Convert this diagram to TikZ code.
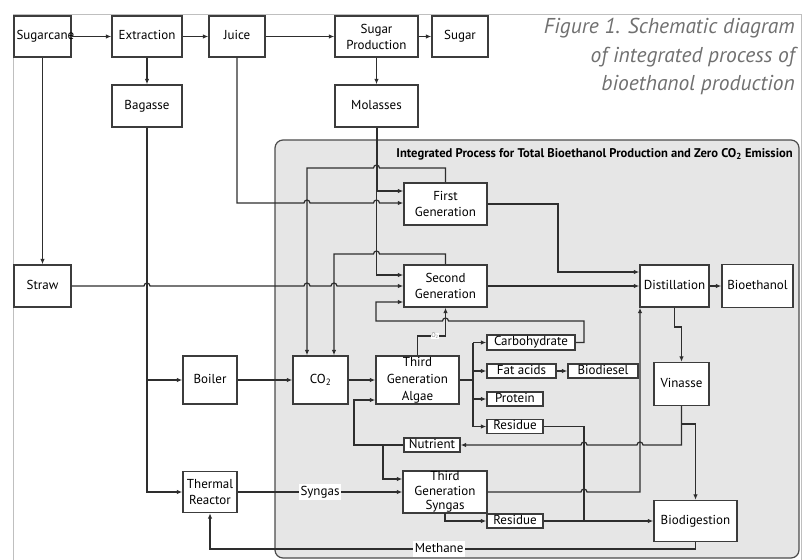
\documentclass[tikz,border=0pt]{standalone}
\usepackage{fontspec}
\setmainfont{PT Sans}
\usetikzlibrary{arrows.meta,calc}
\definecolor{lnc}{HTML}{2E2E2E}
\definecolor{boxc}{HTML}{3C3C3C}
\definecolor{panelfill}{HTML}{E6E6E6}
\definecolor{captiongray}{HTML}{707070}
\begin{document}
\begin{tikzpicture}[x=1pt,y=-1pt,
  box/.style={draw=boxc, line width=1.4pt, fill=white, inner sep=0pt, align=center,
    font=\fontsize{13}{16}\selectfont},
  one/.style={box, text height=9.5pt, text depth=3pt},
  sbox/.style={draw=boxc, line width=1.4pt, fill=white, inner sep=0pt,
    font=\fontsize{13}{16}\selectfont, text height=9.5pt, text depth=3pt},
  ln/.style={draw=lnc, line width=1.2pt},
  arr/.style={ln, -{Latex[length=5.5pt,width=4.5pt]}},
  lab/.style={fill=white, inner sep=1.5pt, font=\fontsize{13}{16}\selectfont, text height=9.5pt, text depth=3pt},
  capt/.style={anchor=base east, font=\itshape\fontsize{21.5}{24}\selectfont, text=captiongray, inner sep=0pt}
]
\useasboundingbox (0,0) rectangle (804,560);
% outer frame
\draw[black!25, line width=0.8pt] (13,575) -- (13,14) -- (801,14) -- (801,575);
% panel
\draw[draw=black!70, line width=1.2pt, fill=panelfill, rounded corners=8pt] (275,140) rectangle (799,558);
\node[anchor=east, font=\bfseries\fontsize{12.6}{14}\selectfont, inner sep=0pt] (ptitle) at (793,154.5)
  {Integrated Process for Total Bioethanol Production and Zero CO\textsubscript{2} Emission};
% caption
\node[capt] (cap1) at (795,33.5) {Figure 1. Schematic diagram};
\node[capt] (cap2) at (795,62) {of integrated process of};
\node[capt] (cap3) at (795,90.5) {bioethanol production};

% nodes
\node[one, minimum width=57pt, minimum height=41pt] (sc) at (42.5,36.5) {\makebox[57pt][l]{\hspace{2.5pt}Sugarcane}};
\node[one, minimum width=70pt, minimum height=41pt] (ext) at (147,36.5) {Extraction};
\node[one, minimum width=56pt, minimum height=41pt] (juice) at (237,36.5) {Juice};
\node[box, minimum width=83pt, minimum height=41pt] (sp) at (376.5,36.5) {Sugar\\Production};
\node[one, minimum width=56pt, minimum height=41pt] (sugar) at (460,36.5) {Sugar};
\node[one, minimum width=70pt, minimum height=42pt] (bag) at (147,106) {Bagasse};
\node[one, minimum width=83pt, minimum height=42pt] (mol) at (376.5,106) {Molasses};
\node[one, minimum width=57pt, minimum height=42pt] (straw) at (42.5,286) {Straw};
\node[box, minimum width=83pt, minimum height=42pt] (fg) at (445.5,204) {First\\Generation};
\node[box, minimum width=83pt, minimum height=42pt] (sg) at (445.5,286) {Second\\Generation};
\node[one, minimum width=69pt, minimum height=42pt] (dist) at (674.5,286) {Distillation};
\node[one, minimum width=71pt, minimum height=43pt] (bioeth) at (757.5,286) {Bioethanol};
\node[one, minimum width=54pt, minimum height=48pt] (boiler) at (210,380) {Boiler};
\node[one, minimum width=55pt, minimum height=48pt] (co2) at (320.5,380) {CO\textsubscript{2}};
\node[box, minimum width=83pt, minimum height=48pt, font=\fontsize{13}{17}\selectfont] (tga) at (417.5,380) {Third\\Generation\\Algae};
\node[sbox, minimum width=88pt, minimum height=15pt] (carb) at (531,342.5) {Carbohydrate};
\node[sbox, minimum width=69pt, minimum height=14pt] (fat) at (521.5,371) {Fat acids};
\node[sbox, minimum width=70pt, minimum height=14pt] (biod) at (603,371) {Biodiesel};
\node[sbox, minimum width=56pt, minimum height=14pt] (prot) at (515,399) {Protein};
\node[sbox, minimum width=56pt, minimum height=14pt] (res1) at (515,426.5) {Residue};
\node[one, minimum width=55pt, minimum height=43pt] (vin) at (681.5,384) {Vinasse};
\node[sbox, minimum width=56pt, minimum height=14pt] (nut) at (432,445) {Nutrient};
\node[box, minimum width=54pt, minimum height=41pt] (tr) at (210,492) {Thermal\\Reactor};
\node[box, minimum width=84pt, minimum height=42pt, font=\fontsize{13}{14.5}\selectfont] (tgs) at (445,492) {Third\\Generation\\Syngas};
\node[sbox, minimum width=56pt, minimum height=14pt] (res2) at (515,521) {Residue};
\node[one, minimum width=83pt, minimum height=41pt] (biodig) at (695.5,521) {Biodigestion};

% junction coordinates
\coordinate (m1) at (376.5,191);
\coordinate (m2) at (376.5,275);
\coordinate (j1) at (237,203);
\coordinate (f1) at (307,168);
\coordinate (s1) at (334,254);
\coordinate (d1) at (558,272);
\coordinate (n1) at (354,400);
\coordinate (n2) at (383,479);
\coordinate (bus) at (473,380);
\coordinate (c1) at (376,302);
\coordinate (t1) at (640,492);
\coordinate (b1) at (147,380);

% top row
\draw[arr] (sc.east) -- (ext.west);
\draw[arr] (ext.east) -- (juice.west);
\draw[arr] (juice.east) -- (sp.west);
\draw[arr] (sp.east) -- (sugar.west);
\draw[arr] (ext.south) -- (bag.north);
\draw[arr] (sp.south) -- (mol.north);
\draw[arr] (sc.south) -- (straw.north);

% bagasse
\draw[arr] (bag.south) -- (bag.south |- tr.west) -- (tr.west);
\draw[arr] (b1) -- (boiler.west);
\draw[arr] (boiler.east) -- (co2.west);
\draw[arr] (co2.east) -- (tga.west);

% straw
\draw[arr] (straw.east) -- (144,286) arc[start angle=180,end angle=0,radius=3pt]
  -- (304,286) arc[start angle=180,end angle=0,radius=3pt]
  -- (331,286) arc[start angle=180,end angle=0,radius=3pt] -- (sg.west);

% molasses
\draw[ln, line width=2pt] (mol.south) -- (m1);
\draw[arr] (m1) -- (fg.west |- m1);
\draw[arr] (m1) -- (m2) -- (sg.west |- m2);

% juice
\draw[arr] (juice.south) -- (j1) -- (304,203) arc[start angle=180,end angle=0,radius=3pt]
  -- (373.5,203) arc[start angle=180,end angle=0,radius=3pt] -- (fg.west |- j1);

% returns to CO2
\draw[arr] (fg.north) -- (445.5,168) -- (379.5,168) arc[start angle=0,end angle=180,radius=3pt]
  -- (f1) -- (co2.north -| f1);
\draw[arr] (sg.north) -- (445.5,254) -- (379.5,254) arc[start angle=0,end angle=180,radius=3pt]
  -- (s1) -- (co2.north -| s1);

% to distillation
\draw[arr] (fg.east) -- (fg.east -| d1) -- (d1) -- (dist.west |- d1);
\draw[arr] (sg.east) -- (dist.west);
\draw[arr] (dist.east) -- (bioeth.west);
\draw[arr] (dist.south) -- (674.5,327) -- (681.5,327) -- (vin.north);

% vinasse
\draw[arr] (vin.south) -- (681.5,445) -- (643,445) arc[start angle=0,end angle=180,radius=3pt]
  -- (587,445) arc[start angle=0,end angle=180,radius=3pt] -- (nut.east);
\draw[arr] (681.5,424) -- (695.5,424) -- (biodig.north);

% nutrient
\draw[arr] (nut.west) -- (354,445) -- (n1) -- (tga.west |- n1);
\draw[arr] (383,445) -- (n2) -- (tgs.west |- n2);

% algae products
\draw[ln, line width=2pt] (tga.east) -- (bus);
\draw[ln] (carb.west -| bus) -- (res1.west -| bus);
\draw[arr] (carb.west -| bus) -- (carb.west);
\draw[arr] (fat.west -| bus) -- (fat.west);
\draw[arr] (prot.west -| bus) -- (prot.west);
\draw[arr] (res1.west -| bus) -- (res1.west);
\draw[arr] (fat.east) -- (biod.west);

% carbohydrate to second generation
\draw[arr] (carb.east) -- (584,342.5) -- (584,321) -- (448.5,321) arc[start angle=0,end angle=180,radius=3pt]
  -- (376,321) -- (c1) -- (sg.west |- c1);

% O2
\draw[arr] (tga.north) -- (417.5,336) -- (445.5,336) -- (sg.south);
\node[fill=white, inner sep=0.5pt, text=black!50, font=\fontsize{6.5}{7}\selectfont] (o2) at (435,336) {O\textsubscript{2}};

% residue 1
\draw[ln] (res1.east) -- (584,426.5) -- (584,521);

% syngas
\draw[arr] (tr.east) -- node[lab] (syn) {Syngas} (tgs.west |- tr.east);
\draw[arr] (tgs.east) -- (581,492) arc[start angle=180,end angle=0,radius=3pt] -- (t1) -- (dist.south -| t1);
\draw[arr] (445,513) -- (445,521) -- (res2.west);
\draw[arr] (res2.east) -- (biodig.west);

% methane
\draw[arr] (biodig.south) -- (695.5,549) -- node[lab, pos=0.528] (meth) {Methane} (210,549) -- (tr.south);
\end{tikzpicture}
\end{document}
